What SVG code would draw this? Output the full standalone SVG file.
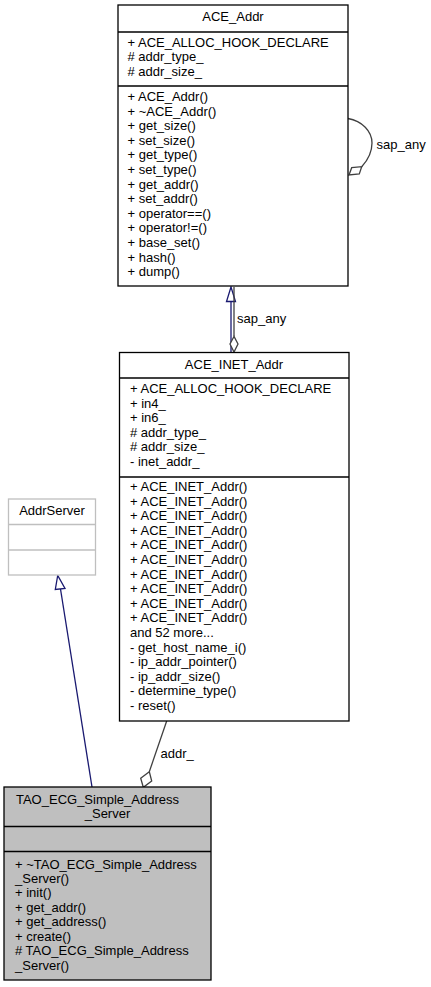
<svg xmlns="http://www.w3.org/2000/svg" width="431" height="987" viewBox="0 0 431 987">
<style>
text{font-family:"Liberation Sans",Arial,sans-serif;font-size:13px;fill:#000}
.m{text-anchor:middle}
.box{fill:#fff;stroke:#000;stroke-width:1.3}
.gbox{fill:#fff;stroke:#bfbfbf;stroke-width:1.3}
.tbox{fill:#bfbfbf;stroke:#000;stroke-width:1.3}
.inh{fill:none;stroke:#191970;stroke-width:1.3}
.tri{fill:#fff;stroke:#191970;stroke-width:1.3}
.agg{fill:none;stroke:#404040;stroke-width:1.3}
.dia{fill:#fff;stroke:#404040;stroke-width:1.3}
</style>
<rect width="431" height="987" fill="#fff"/>
<g id="edges">
<line class="inh" x1="231" y1="301.5" x2="231" y2="352.5"/>
<polygon class="tri" points="231,287 226.5,301.5 235.5,301.5"/>
<line class="agg" x1="234" y1="287" x2="234" y2="336.5"/>
<polygon class="dia" points="234,336.5 230,344 234,352 238,344"/>
<text x="237" y="323">sap_any</text>
<path class="agg" d="M348,118.5 C362,121 372,131 372,143 C372,153 367,161 361.7,166.7"/>
<polygon class="dia" points="349,175 351.7,167.7 361.7,166.7 359.3,174"/>
<text x="376.5" y="149">sap_any</text>
<line class="inh" x1="92" y1="787" x2="60.5" y2="589"/>
<polygon class="tri" points="57.7,575.5 55.3,589.5 65,588.5"/>
<line class="agg" x1="166.7" y1="721" x2="149.3" y2="771.7"/>
<polygon class="dia" points="149.3,771.7 140.7,778.3 143.3,787.3 151.7,781"/>
<text x="160.5" y="758">addr_</text>
</g>
<g id="ACE_Addr">
<rect class="box" x="118" y="5" width="230" height="281"/>
<line class="box" x1="118" y1="32" x2="348" y2="32"/>
<line class="box" x1="118" y1="86" x2="348" y2="86"/>
<text class="m" x="233" y="21">ACE_Addr</text>
<text x="127.5" y="46.5">+ ACE_ALLOC_HOOK_DECLARE</text>
<text x="127.5" y="61"># addr_type_</text>
<text x="127.5" y="75.5"># addr_size_</text>
<text x="127.5" y="101">+ ACE_Addr()</text>
<text x="127.5" y="115.6">+ ~ACE_Addr()</text>
<text x="127.5" y="130.2">+ get_size()</text>
<text x="127.5" y="144.8">+ set_size()</text>
<text x="127.5" y="159.4">+ get_type()</text>
<text x="127.5" y="174">+ set_type()</text>
<text x="127.5" y="188.6">+ get_addr()</text>
<text x="127.5" y="203.2">+ set_addr()</text>
<text x="127.5" y="217.8">+ operator==()</text>
<text x="127.5" y="232.4">+ operator!=()</text>
<text x="127.5" y="247">+ base_set()</text>
<text x="127.5" y="261.6">+ hash()</text>
<text x="127.5" y="276.2">+ dump()</text>
</g>
<g id="ACE_INET_Addr">
<rect class="box" x="119.5" y="352.5" width="229.5" height="368.5"/>
<line class="box" x1="119.5" y1="378" x2="349" y2="378"/>
<line class="box" x1="119.5" y1="477" x2="349" y2="477"/>
<text class="m" x="234" y="369">ACE_INET_Addr</text>
<text x="130" y="393">+ ACE_ALLOC_HOOK_DECLARE</text>
<text x="130" y="407.6">+ in4_</text>
<text x="130" y="422.2">+ in6_</text>
<text x="130" y="436.8"># addr_type_</text>
<text x="130" y="451.4"># addr_size_</text>
<text x="130" y="466">- inet_addr_</text>
<text x="130" y="491">+ ACE_INET_Addr()</text>
<text x="130" y="505.6">+ ACE_INET_Addr()</text>
<text x="130" y="520.2">+ ACE_INET_Addr()</text>
<text x="130" y="534.8">+ ACE_INET_Addr()</text>
<text x="130" y="549.4">+ ACE_INET_Addr()</text>
<text x="130" y="564">+ ACE_INET_Addr()</text>
<text x="130" y="578.6">+ ACE_INET_Addr()</text>
<text x="130" y="593.2">+ ACE_INET_Addr()</text>
<text x="130" y="607.8">+ ACE_INET_Addr()</text>
<text x="130" y="622.4">+ ACE_INET_Addr()</text>
<text x="130" y="637">and 52 more...</text>
<text x="130" y="651.6">- get_host_name_i()</text>
<text x="130" y="666.2">- ip_addr_pointer()</text>
<text x="130" y="680.8">- ip_addr_size()</text>
<text x="130" y="695.4">- determine_type()</text>
<text x="130" y="710">- reset()</text>
</g>
<g id="AddrServer">
<rect class="gbox" x="8.5" y="499" width="87" height="76"/>
<line class="gbox" x1="8.5" y1="524.5" x2="95.5" y2="524.5"/>
<line class="gbox" x1="8.5" y1="550" x2="95.5" y2="550"/>
<text class="m" x="52" y="515">AddrServer</text>
</g>
<g id="TAO_ECG_Simple_Address_Server">
<rect class="tbox" x="4" y="787" width="207" height="193"/>
<line class="tbox" x1="4" y1="826.5" x2="211" y2="826.5"/>
<line class="tbox" x1="4" y1="851.5" x2="211" y2="851.5"/>
<text class="m" x="97.5" y="803.5">TAO_ECG_Simple_Address</text>
<text class="m" x="107.5" y="818">_Server</text>
<text x="15" y="868.5">+ ~TAO_ECG_Simple_Address</text>
<text x="15" y="883">_Server()</text>
<text x="15" y="897.4">+ init()</text>
<text x="15" y="911.8">+ get_addr()</text>
<text x="15" y="926.2">+ get_address()</text>
<text x="15" y="940.6">+ create()</text>
<text x="15" y="955"># TAO_ECG_Simple_Address</text>
<text x="15" y="969.5">_Server()</text>
</g>
</svg>
